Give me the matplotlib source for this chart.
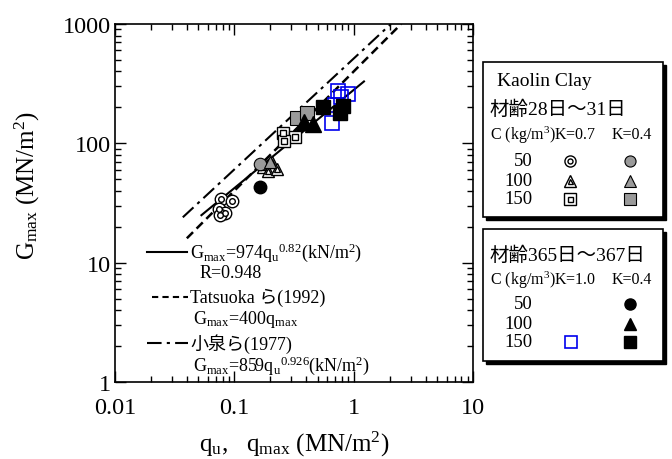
import matplotlib
matplotlib.use('Agg')
import matplotlib.pyplot as plt
from matplotlib.patches import Rectangle
from matplotlib.ticker import FuncFormatter

plt.rcParams['font.family'] = ['Liberation Serif', 'Noto Sans CJK JP']
plt.rcParams['mathtext.fontset'] = 'custom'
plt.rcParams['mathtext.rm'] = 'Liberation Serif'
plt.rcParams['mathtext.it'] = 'Liberation Serif:italic'

# 材齢28日～31日, K=0.7
q_k07_c50 = [0.077, 0.095, 0.074, 0.084, 0.076]
g_k07_c50 = [34, 33, 28, 26, 25]
q_k07_c100 = [0.174, 0.207, 0.192, 0.228]
g_k07_c100 = [63, 70, 59, 61]
q_k07_c150 = [0.255, 0.325, 0.26]
g_k07_c150 = [122, 112, 105]
# 材齢28日～31日, K=0.4
q_k04_c50 = [0.164]
g_k04_c50 = [67]
q_k04_c100 = [0.199]
g_k04_c100 = [70]
q_k04_c150 = [0.335, 0.41]
g_k04_c150 = [162, 180]
# 材齢365日～367日
q_l10_c150 = [0.74, 0.90, 0.70, 0.66, 0.79]
g_l10_c150 = [274, 260, 210, 148, 243]
q_l04_c50 = [0.164]
g_l04_c50 = [43]
q_l04_c100 = [0.38, 0.46]
g_l04_c100 = [150, 145]
q_l04_c150 = [0.555, 0.77, 0.81]
g_l04_c150 = [200, 178, 207]

# relation lines, end points
q_fit = [0.053, 1.22]
g_fit = [25, 330]
q_tatsuoka = [0.04, 2.5]
g_tatsuoka = [16, 1000]
q_koizumi = [0.037, 2.05]
g_koizumi = [24, 1000]

GREY = '#9a9a9a'


def draw_pts(ax, x, y, marker, kind, size=9):
    if kind == 'framed':
        ax.plot(x, y, ls='none', marker=marker, ms=size, mfc='white', mec='black', mew=1, zorder=4)
        ax.plot(x, y, ls='none', marker=marker, ms=size * 0.45, mfc='white', mec='black', mew=1, zorder=4)
    elif kind == 'grey':
        ax.plot(x, y, ls='none', marker=marker, ms=size, mfc=GREY, mec='black', mew=0.8, zorder=4)
    elif kind == 'black':
        ax.plot(x, y, ls='none', marker=marker, ms=size, mfc='black', mec='black', zorder=4)
    elif kind == 'blue':
        ax.plot(x, y, ls='none', marker=marker, ms=size, mfc='none', mec='#0000ee', mew=1.2, zorder=4)


fig = plt.figure(figsize=(6.72, 4.6), dpi=100)
ax = fig.add_axes([115 / 672, 77 / 460, 358 / 672, 358 / 460])
ax.set_xscale('log')
ax.set_yscale('log')
ax.set_xlim(0.01, 10)
ax.set_ylim(1, 1000)

ax.plot(q_fit, g_fit, color='black', lw=1.5, zorder=3)
ax.plot(q_tatsuoka, g_tatsuoka, color='black', lw=1.8, ls=(0, (3.5, 2)), zorder=3)
ax.plot(q_koizumi, g_koizumi, color='black', lw=1.5, ls=(0, (7, 2.5, 1.5, 2.5)), zorder=3)

draw_pts(ax, q_k07_c50, g_k07_c50, 'o', 'framed')
draw_pts(ax, q_k07_c100, g_k07_c100, '^', 'framed')
draw_pts(ax, q_k07_c150, g_k07_c150, 's', 'framed')
draw_pts(ax, q_k04_c50, g_k04_c50, 'o', 'grey')
draw_pts(ax, q_k04_c100, g_k04_c100, '^', 'grey')
draw_pts(ax, q_k04_c150, g_k04_c150, 's', 'grey', 10)
draw_pts(ax, q_l10_c150, g_l10_c150, 's', 'blue', 10)
draw_pts(ax, q_l04_c50, g_l04_c50, 'o', 'black')
draw_pts(ax, q_l04_c100, g_l04_c100, '^', 'black', 12)
draw_pts(ax, q_l04_c150, g_l04_c150, 's', 'black', 10)

fmt = FuncFormatter(lambda v, p: f'{v:g}')
ax.xaxis.set_major_formatter(fmt)
ax.yaxis.set_major_formatter(fmt)
ax.tick_params(which='both', direction='in', top=True, right=True, width=1)
ax.tick_params(which='major', length=8, labelsize=17.5)
ax.tick_params(which='minor', length=4)
ax.tick_params(axis='x', which='major', pad=11)
ax.tick_params(axis='y', which='major', pad=3)
for s in ax.spines.values():
    s.set_linewidth(1.2)

ax.set_xlabel(r'$\mathrm{q_u}$,   $\mathrm{q_{max}}$ (MN/m$^2$)', fontsize=18)
ax.set_ylabel(r'$\mathrm{G_{max}}$ (MN/m$^2$)', fontsize=18)
ax.xaxis.set_label_coords(0.5, -0.13)
ax.yaxis.set_label_coords(-0.205, 0.553)

# key for the three relation lines
tr = ax.transAxes
def px(x, y):
    return ((x - 115) / 358, (383 - y) / 358)

ax.plot(*zip(px(147, 253), px(187, 253)), transform=tr, color='black', lw=1.5)
ax.text(*px(190, 253), r'$\mathrm{G_{max}}$=974$\mathrm{q_u{}^{0.82}}$(kN/m$^2$)', transform=tr,
        fontsize=13, va='center')
ax.text(*px(200, 273), 'R=0.948', transform=tr, fontsize=13, va='center')
ax.plot(*zip(px(152, 298), px(188, 298)), transform=tr, color='black', lw=1.5, ls=(0, (3, 2)))
ax.text(*px(190, 298), 'Tatsuoka ら(1992)', transform=tr, fontsize=13, va='center')
ax.text(*px(193, 319), r'$\mathrm{G_{max}}$=400$\mathrm{q_{max}}$', transform=tr, fontsize=13, va='center')
ax.plot(*zip(px(147, 344), px(188, 344)), transform=tr, color='black', lw=1.5, ls=(0, (7, 2.5, 1.5, 2.5)))
ax.text(*px(190, 344), '小泉ら(1977)', transform=tr, fontsize=13, va='center')
ax.text(*px(193, 366), r'$\mathrm{G_{max}}$=859$\mathrm{q_u{}^{0.926}}$(kN/m$^2$)', transform=tr,
        fontsize=13, va='center')

# right-hand key boxes, drawn in pixel coordinates
lax = fig.add_axes([0, 0, 1, 1])
lax.set_xlim(0, 672)
lax.set_ylim(460, 0)
lax.axis('off')

for (x0, y0, w, h) in [(483, 63, 180, 155), (483, 230, 180, 132)]:
    lax.add_patch(Rectangle((x0 + 3, y0 + 3), w, h, fc='black', ec='black'))
    lax.add_patch(Rectangle((x0, y0), w, h, fc='white', ec='black', lw=1.2))

lax.text(497, 81, 'Kaolin Clay', fontsize=14, va='center')
lax.text(490, 110, '材齢28日～31日', fontsize=14, va='center')
lax.text(490, 135, 'C (kg/m$^3$)K=0.7', fontsize=11.5, va='center')
lax.text(612, 135, 'K=0.4', fontsize=11.5, va='center')
lax.text(490, 256, '材齢365日～367日', fontsize=14, va='center')
lax.text(490, 280, 'C (kg/m$^3$)K=1.0', fontsize=11.5, va='center')
lax.text(612, 280, 'K=0.4', fontsize=11.5, va='center')

rows1 = [162, 182, 200]
rows2 = [305, 325, 343]
for y, c in zip(rows1, ['50', '100', '150']):
    lax.text(533, y, c, fontsize=13.5, va='center', ha='right')
for y, c in zip(rows2, ['50', '100', '150']):
    lax.text(533, y, c, fontsize=13.5, va='center', ha='right')

for y, m in zip(rows1, ['o', '^', 's']):
    draw_pts(lax, [570], [y], m, 'framed', 8)
    draw_pts(lax, [630], [y], m, 'grey', 8)
draw_pts(lax, [571], [rows2[2]], 's', 'blue', 8)
for y, m in zip(rows2, ['o', '^', 's']):
    draw_pts(lax, [630], [y], m, 'black', 8)

fig.savefig('out.png', dpi=100)
